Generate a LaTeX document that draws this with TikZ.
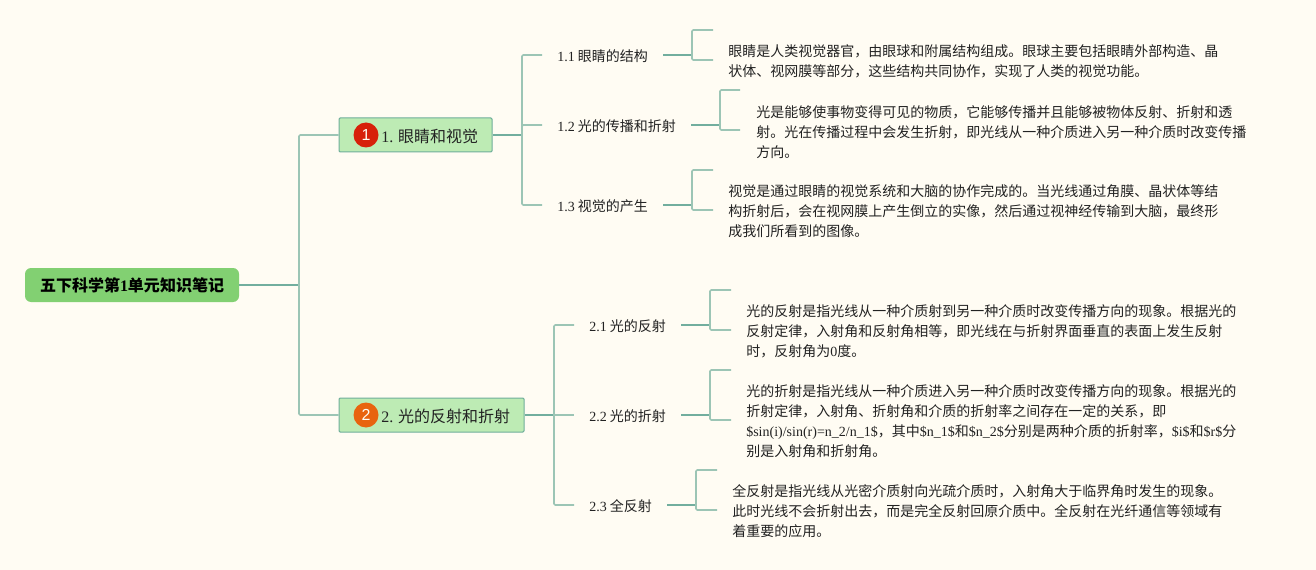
\documentclass[tikz,border=0pt]{standalone}
\usepackage{fontspec}
\usepackage{xcolor}
\setmainfont{Noto Sans CJK SC}
\newfontfamily\latin{Liberation Serif}
\newfontfamily\badgefont{Liberation Sans}
\newcommand{\lat}[1]{{\latin #1}}
\definecolor{paper}{HTML}{FFFCF3}
\definecolor{rootgreen}{HTML}{82D072}
\definecolor{topicgreen}{HTML}{BDEBB4}
\definecolor{topicedge}{HTML}{6FAE9A}
\definecolor{stemline}{HTML}{72AE9E}
\definecolor{branchline}{HTML}{9CC5B5}
\definecolor{inktext}{HTML}{222222}
\definecolor{badgered}{HTML}{D7200A}
\definecolor{badgeorange}{HTML}{E8640F}
\tikzset{
  rootbox/.style={fill=rootgreen,rounded corners=4.5pt,minimum width=160.5pt,minimum height=25.5pt,inner sep=0pt,font=\fontsize{12pt}{15pt}\selectfont\bfseries,text=black},
  topicbox/.style={draw=topicedge,fill=topicgreen,line width=0.75pt,rounded corners=0.8pt,minimum height=25.5pt,inner sep=0pt,font=\fontsize{12pt}{15pt}\selectfont,text=inktext},
  badge/.style={circle,minimum size=18.75pt,inner sep=0pt,font=\fontsize{12pt}{15pt}\selectfont\badgefont,text=paper},
  sublabel/.style={anchor=west,inner xsep=11.25pt,inner ysep=0pt,text height=11pt,text depth=1.5pt,font=\fontsize{10.5pt}{15pt}\selectfont,text=inktext},
  notetext/.style={anchor=west,inner sep=0pt,align=left,font=\fontsize{10.5pt}{15pt}\selectfont,text=inktext},
  stem/.style={stemline,line width=1.3pt},
  branch/.style={branchline,line width=1.2pt,rounded corners=1pt}
}
\begin{document}
\begin{tikzpicture}[x=0.75pt,y=-0.75pt]
  \fill[paper] (0,0) rectangle (1316,570);
  \useasboundingbox (0,0) rectangle (1316,570);
  % main topics
  \node[rootbox] (root) at (132,285) {五下科学第\lat{1}单元知识笔记};
  \node[topicbox,minimum width=114.75pt] (t1) at (415.5,135) {};
  \node[topicbox,minimum width=138.75pt] (t2) at (431.5,415) {};
  \node[badge,fill=badgered] (b1) at (366,135) {1};
  \node[badge,fill=badgeorange] (b2) at (366,415) {2};
  \node[anchor=west,inner sep=0pt,font=\fontsize{12pt}{15pt}\selectfont,text=inktext] (n1) at (381,136) {\lat{1.} 眼睛和视觉};
  \node[anchor=west,inner sep=0pt,font=\fontsize{12pt}{15pt}\selectfont,text=inktext] (n2) at (381,416) {\lat{2.} 光的反射和折射};
  \coordinate (rf) at (299,285); \coordinate (f1) at (522,135); \coordinate (f2) at (554,415);
  \draw[stem] (root.east) -- (rf); \draw[branch] (t1.west) -| (rf) |- (t2.west);
  % sub topics
  \node[sublabel] (l11) at (542,55) {\lat{1.1} 眼睛的结构};
  \node[sublabel] (l12) at (542,125) {\lat{1.2} 光的传播和折射};
  \node[sublabel] (l13) at (542,205) {\lat{1.3} 视觉的产生};
  \node[sublabel] (l21) at (574,325) {\lat{2.1} 光的反射};
  \node[sublabel] (l22) at (574,415) {\lat{2.2} 光的折射};
  \node[sublabel] (l23) at (574,505) {\lat{2.3} 全反射};
  \draw[stem] (t1.east) -- (f1); \draw[stem] (t2.east) -- (f2);
  \draw[branch] (l11.west) -| (f1) |- (l13.west); \draw[branch] (f1) |- (l12.west);
  \draw[branch] (l21.west) -| (f2) |- (l23.west); \draw[branch] (f2) -- (l22.west);
  % brackets towards the notes
  \coordinate (f11) at (692,55); \coordinate (a11) at (713,30); \coordinate (c11) at (713,60);
  \coordinate (f12) at (720,125); \coordinate (a12) at (740,90); \coordinate (c12) at (740,130);
  \coordinate (f13) at (692,205); \coordinate (a13) at (713,170); \coordinate (c13) at (713,210);
  \coordinate (f21) at (710,325); \coordinate (a21) at (731,290); \coordinate (c21) at (731,330);
  \coordinate (f22) at (710,415); \coordinate (a22) at (731,370); \coordinate (c22) at (731,420);
  \coordinate (f23) at (696,505); \coordinate (a23) at (717,470); \coordinate (c23) at (717,510);
  \foreach \k in {11,12,13,21,22,23} {
    \draw[stem] (l\k.east) -- (f\k);
    \draw[branch] (a\k) -| (f\k) |- (c\k);
  }
  % notes
  \node[notetext] (x11) at (728,61) {眼睛是人类视觉器官，由眼球和附属结构组成。眼球主要包括眼睛外部构造、晶\\状体、视网膜等部分，这些结构共同协作，实现了人类的视觉功能。};
  \node[notetext] (x12) at (756,132) {光是能够使事物变得可见的物质，它能够传播并且能够被物体反射、折射和透\\射。光在传播过程中会发生折射，即光线从一种介质进入另一种介质时改变传播\\方向。};
  \node[notetext] (x13) at (728,211) {视觉是通过眼睛的视觉系统和大脑的协作完成的。当光线通过角膜、晶状体等结\\构折射后，会在视网膜上产生倒立的实像，然后通过视神经传输到大脑，最终形\\成我们所看到的图像。};
  \node[notetext] (x21) at (746,331) {光的反射是指光线从一种介质射到另一种介质时改变传播方向的现象。根据光的\\反射定律，入射角和反射角相等，即光线在与折射界面垂直的表面上发生反射\\时，反射角为\lat{0}度。};
  \node[notetext] (x22) at (746,421) {光的折射是指光线从一种介质进入另一种介质时改变传播方向的现象。根据光的\\折射定律，入射角、折射角和介质的折射率之间存在一定的关系，即\\\lat{\$sin(i)/sin(r)=n\_2/n\_1\$}，其中\lat{\$n\_1\$}和\lat{\$n\_2\$}分别是两种介质的折射率，\lat{\$i\$}和\lat{\$r\$}分\\别是入射角和折射角。};
  \node[notetext] (x23) at (732,511) {全反射是指光线从光密介质射向光疏介质时，入射角大于临界角时发生的现象。\\此时光线不会折射出去，而是完全反射回原介质中。全反射在光纤通信等领域有\\着重要的应用。};
\end{tikzpicture}
\end{document}
